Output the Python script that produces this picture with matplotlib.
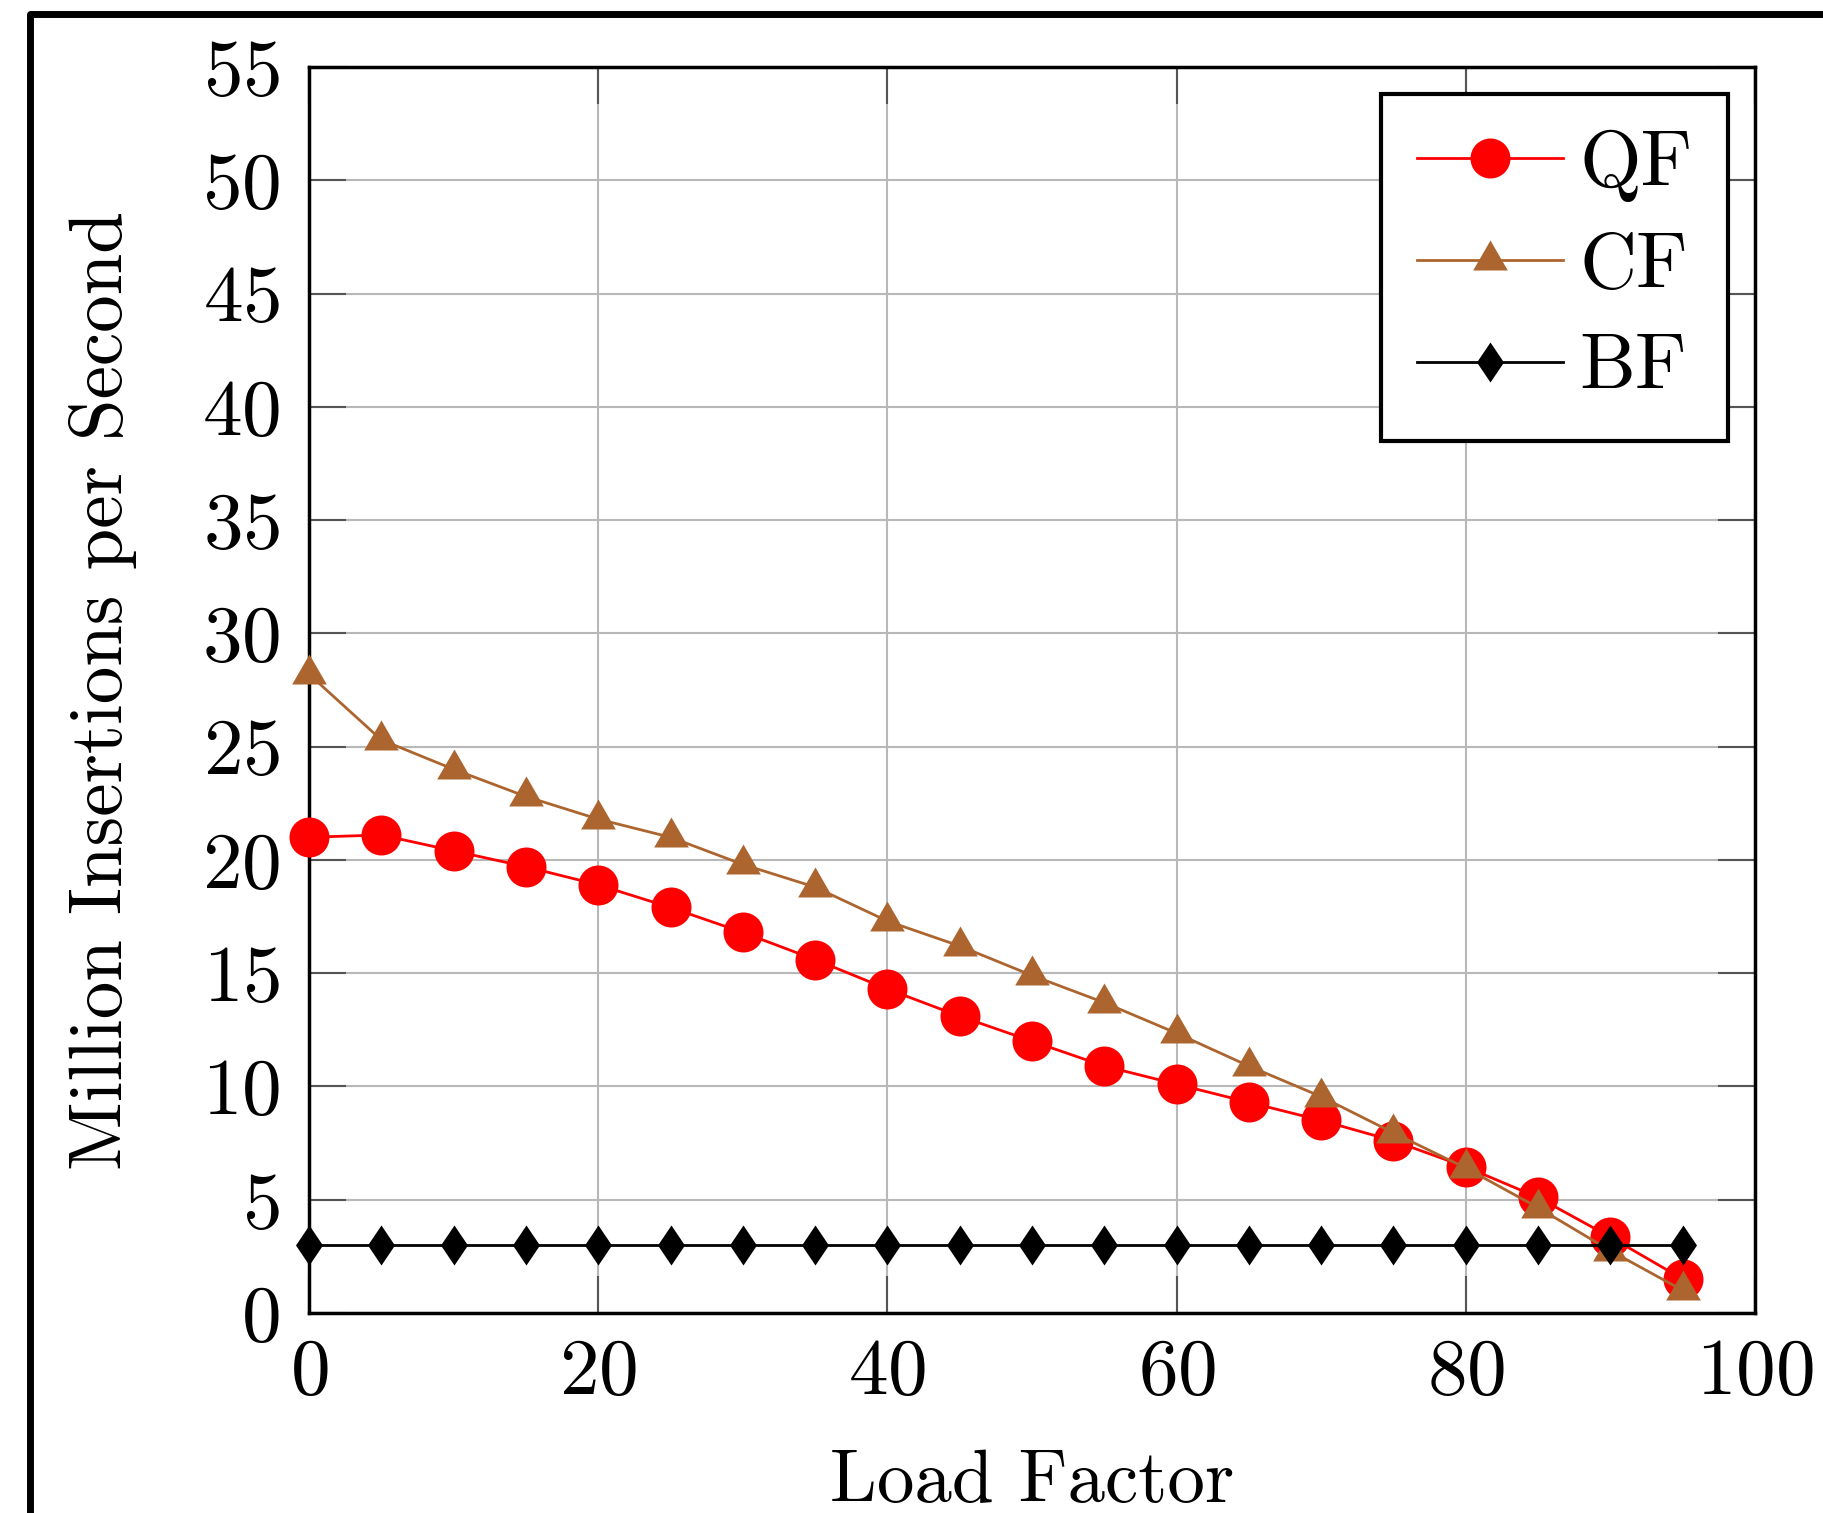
import numpy as np
import matplotlib
matplotlib.use("Agg")
import matplotlib.pyplot as plt
from matplotlib.lines import Line2D

# Insertion throughput vs. load factor
load_factor = [0, 5, 10, 15, 20, 25, 30, 35, 40, 45, 50, 55, 60, 65, 70, 75, 80, 85, 90, 95]
qf = [21.0, 21.1, 20.4, 19.7, 18.9, 17.9, 16.8, 15.6, 14.3, 13.1,
      12.0, 10.9, 10.1, 9.3, 8.5, 7.6, 6.45, 5.1, 3.35, 1.5]
cf = [28.2, 25.3, 24.0, 22.8, 21.8, 21.0, 19.8, 18.8, 17.3, 16.2,
      14.9, 13.7, 12.35, 10.9, 9.55, 7.95, 6.4, 4.65, 2.75, 1.0]
bf = [3.0, 3.0, 3.0, 3.0, 3.0, 3.0, 3.0, 3.0, 3.0, 3.0,
      3.0, 3.0, 3.0, 3.0, 3.0, 3.0, 3.0, 3.0, 3.0, 3.0]
series_names = ["QF", "CF", "BF"]
x_ticks = [0, 20, 40, 60, 80, 100]
y_ticks = [0, 5, 10, 15, 20, 25, 30, 35, 40, 45, 50, 55]

FONT = "cmr10"
FS = 57
LABEL_FS = 54
plt.rcParams["font.family"] = FONT
plt.rcParams["axes.formatter.use_mathtext"] = True

W, H = 1824, 1513
fig = plt.figure(figsize=(W / 100, H / 100), dpi=100)
ax = fig.add_axes([309 / W, 1 - 1313 / H, 1446 / W, 1246 / H])

# pgfplots-like marks: equilateral triangle and slim diamond
tri = np.array([(0, 1), (-0.866, -0.5), (0.866, -0.5), (0, 1)])
dia = np.array([(0, 1), (0.675, 0), (0, -1), (-0.675, 0), (0, 1)])

red = "#ff0000"
brown = "#ad652f"
ms = 28.8
lw = 2.0
ax.plot(load_factor, qf, color=red, lw=lw, marker="o", ms=ms, mec=red, mfc=red,
        mew=0, label=series_names[0], zorder=3, clip_on=False)
ax.plot(load_factor, cf, color=brown, lw=lw, marker=tri, ms=ms, mec=brown, mfc=brown,
        mew=0, label=series_names[1], zorder=4, clip_on=False)
ax.plot(load_factor, bf, color="black", lw=lw, marker=dia, ms=ms, mec="black", mfc="black",
        mew=0, label=series_names[2], zorder=5, clip_on=False)

ax.set_xlim(0, 100)
ax.set_ylim(0, 55)
ax.set_xticks(x_ticks)
ax.set_yticks(y_ticks)
ax.grid(True, color="#b8b8b8", lw=1.5, zorder=0)
ax.set_axisbelow(True)
ax.tick_params(direction="in", length=26.6, width=1.5, color="#555555",
               top=True, right=True, labelsize=FS)
ax.tick_params(axis="x", pad=18)
ax.tick_params(axis="y", pad=21)
for s in ax.spines.values():
    s.set_linewidth(2.5)
    s.set_zorder(2.5)

ax.set_xlabel("Load Factor", fontsize=LABEL_FS, va="baseline")
ax.xaxis.set_label_coords(0.5, (1313 - 1502) / 1246)
ax.set_ylabel("Million Insertions per Second", fontsize=LABEL_FS, va="center")
ax.yaxis.set_label_coords((103 - 309) / 1446, 0.5)

leg = ax.legend(loc="upper right", fontsize=FS, frameon=True, fancybox=False,
                framealpha=1, edgecolor="black", handlelength=1.85,
                handletextpad=0.2, borderaxespad=0.34, labelspacing=0.38,
                borderpad=0.45)
leg.get_frame().set_linewidth(3.0)
leg.set_zorder(10)

# outer frame around the figure (top and left edges)
frame_kw = dict(color="black", lw=5, solid_capstyle="round", solid_joinstyle="round",
                transform=None)
fig.add_artist(Line2D([30, 30, W + 20], [-20, H - 14, H - 14], **frame_kw))

fig.savefig("out.png", dpi=100)
